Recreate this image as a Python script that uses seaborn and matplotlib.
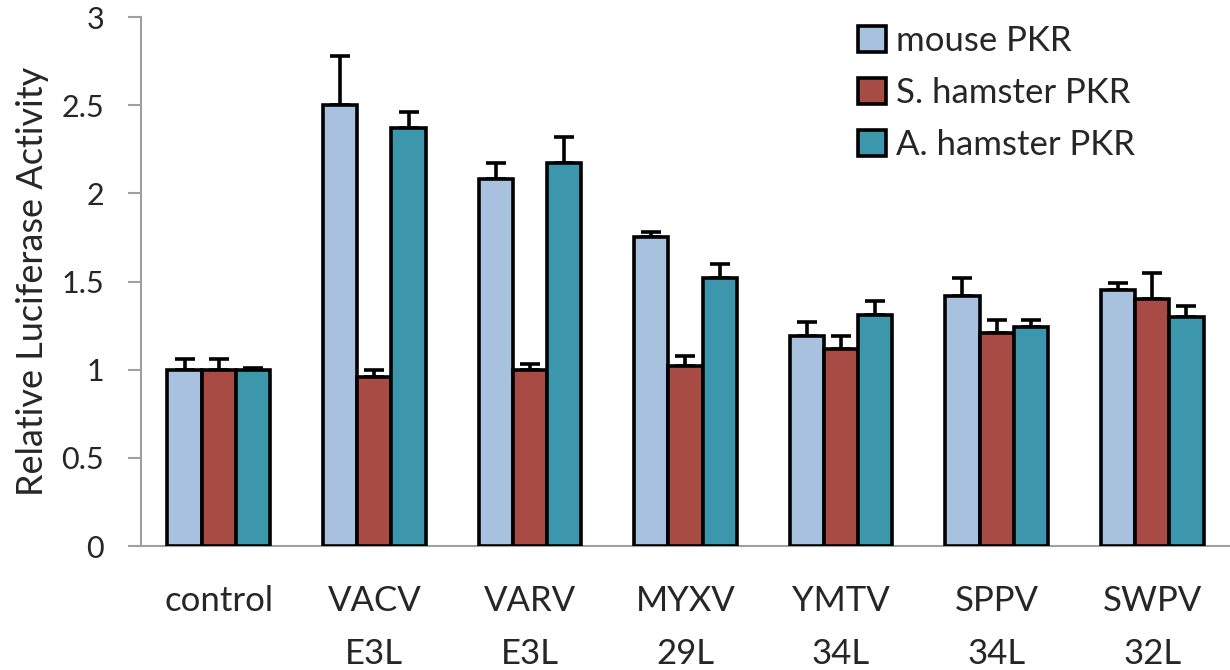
import matplotlib
matplotlib.use("Agg")
import matplotlib.pyplot as plt
import seaborn as sns
import pandas as pd
import numpy as np

categories = ["control", "VACV\nE3L", "VARV\nE3L", "MYXV\n29L", "YMTV\n34L", "SPPV\n34L", "SWPV\n32L"]
series = ["mouse PKR", "S. hamster PKR", "A. hamster PKR"]
mouse = [1.00, 2.50, 2.08, 1.75, 1.19, 1.42, 1.45]
s_hamster = [1.00, 0.96, 1.00, 1.02, 1.12, 1.21, 1.40]
a_hamster = [1.00, 2.37, 2.17, 1.52, 1.31, 1.24, 1.30]
mouse_err = [0.06, 0.28, 0.09, 0.03, 0.08, 0.10, 0.04]
s_hamster_err = [0.06, 0.04, 0.03, 0.06, 0.07, 0.07, 0.15]
a_hamster_err = [0.01, 0.09, 0.15, 0.08, 0.08, 0.04, 0.06]
colors = ["#A8C1DF", "#A84B45", "#3C97AD"]
yticks = [0, 0.5, 1, 1.5, 2, 2.5, 3]
ytick_labels = ["0", "0.5", "1", "1.5", "2", "2.5", "3"]

sns.set_style("white")
plt.rcParams['font.family'] = ['Lato', 'DejaVu Sans']

rows = []
for s, vals, errs in zip(series, [mouse, s_hamster, a_hamster], [mouse_err, s_hamster_err, a_hamster_err]):
    for c, v, e in zip(categories, vals, errs):
        rows.append({"category": c, "series": s, "value": v, "err": e})
df = pd.DataFrame(rows)

fig = plt.figure(figsize=(12.3, 6.7), dpi=100)
ax = fig.add_axes([0.1146, 0.185, 0.8854, 0.7896])

sns.barplot(data=df, x="category", y="value", hue="series", order=categories,
            hue_order=series, palette=colors, edgecolor="black", linewidth=2.6,
            width=0.66, errorbar=None, saturation=1, ax=ax, zorder=3)

# error bars (upward only)
for i, s in enumerate(series):
    cont = ax.containers[i]
    sub = df[df.series == s].set_index("category").loc[categories]
    xs = [p.get_x() + p.get_width() / 2 for p in cont.patches]
    ys = sub["value"].values
    es = sub["err"].values
    ax.errorbar(xs, ys, yerr=[np.zeros_like(es), es], fmt="none", ecolor="black",
                elinewidth=2.6, capsize=7, capthick=2.6, zorder=2)

ax.set_xlim(-0.5, 6.5)
ax.set_ylim(0, 3)
ax.set_yticks(yticks)
ax.set_yticklabels(ytick_labels)
ax.set_xticks(range(len(categories)))
ax.set_xticklabels(categories, linespacing=1.82)
ax.set_xticks(np.arange(-0.5, 7.0, 1.0), minor=True)
ax.tick_params(axis="x", which="major", length=0, pad=28, labelsize=25)
ax.tick_params(axis="x", which="minor", length=11, width=1.5, color="#A0A0A0")
ax.tick_params(axis="y", which="major", length=9.5, width=1.5, color="#A0A0A0",
               labelsize=22, pad=17, left=True)
ax.set_xlabel("")
ax.set_ylabel("Relative Luciferase Activity", fontsize=26, labelpad=9)

for side in ["top", "right"]:
    ax.spines[side].set_visible(False)
for side in ["left", "bottom"]:
    ax.spines[side].set_color("#A0A0A0")
    ax.spines[side].set_linewidth(1.5)

leg = ax.legend(loc="upper left", bbox_to_anchor=(858 / 1230, 1 - 25 / 670),
                bbox_transform=fig.transFigure, frameon=False, borderpad=0,
                borderaxespad=0, fontsize=25, handlelength=0.8, handleheight=0.78,
                handletextpad=0.3, labelspacing=0.58)
for h in leg.legend_handles:
    h.set_edgecolor("black")
    h.set_linewidth(2.6)

fig.savefig("out.png", dpi=100)
